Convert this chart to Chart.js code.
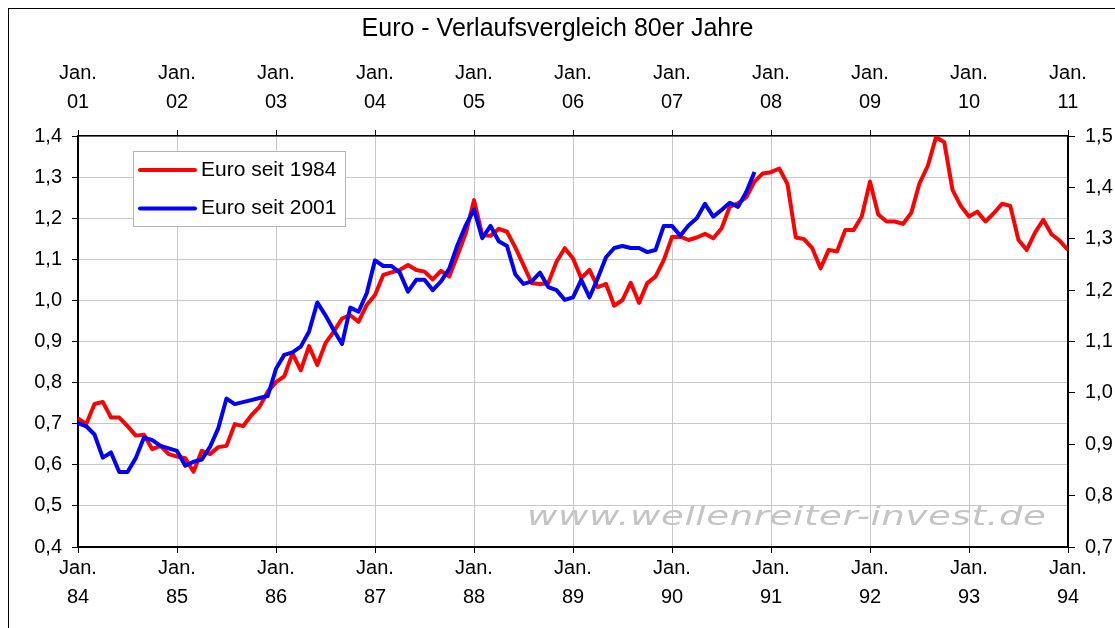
<!DOCTYPE html>
<html><head><meta charset="utf-8">
<script src="https://cdn.jsdelivr.net/npm/chart.js@4.4.1/dist/chart.umd.min.js"></script>
<style>
html,body{margin:0;padding:0;background:#fff;overflow:hidden;}
#wrap{position:relative;width:1115px;height:628px;overflow:hidden;}
#frame{position:absolute;left:8px;top:8px;width:1140px;height:680px;border:1px solid #000;box-sizing:border-box;pointer-events:none;}
canvas{position:absolute;left:0;top:0;}
</style></head><body>
<div id="wrap"><canvas id="c" width="1115" height="628"></canvas><div id="frame"></div></div>
<script>
// Tick labels
const bottomYears = ['84','85','86','87','88','89','90','91','92','93','94'];
const topYears = ['01','02','03','04','05','06','07','08','09','10','11'];
const monthLabel = 'Jan.';
const titleText = 'Euro - Verlaufsvergleich 80er Jahre';
const seriesNames = ['Euro seit 1984', 'Euro seit 2001'];
const watermarkText = 'www.wellenreiter-invest.de';

// Monthly values, Euro since Jan 1984 (left axis)
const red1984 = [
 0.713,0.699,0.748,0.753,0.715,0.715,0.694,0.671,0.673,0.638,0.646,0.626,
 0.620,0.616,0.583,0.634,0.626,0.643,0.646,0.699,0.694,0.720,0.741,0.778,
 0.801,0.815,0.871,0.830,0.889,0.843,0.896,0.924,0.956,0.964,0.948,0.989,
 1.013,1.062,1.068,1.074,1.086,1.074,1.070,1.051,1.072,1.058,1.110,1.163,
 1.244,1.159,1.157,1.174,1.167,1.129,1.086,1.042,1.040,1.042,1.094,1.127,
 1.102,1.054,1.074,1.032,1.040,0.987,1.001,1.043,0.994,1.042,1.058,1.098,
 1.154,1.155,1.147,1.153,1.162,1.151,1.175,1.228,1.236,1.251,1.289,1.309,
 1.312,1.321,1.283,1.153,1.149,1.127,1.078,1.123,1.119,1.171,1.171,1.204,
 1.289,1.209,1.192,1.192,1.186,1.213,1.285,1.327,1.397,1.385,1.269,1.230,
 1.204,1.216,1.192,1.212,1.235,1.230,1.147,1.123,1.165,1.196,1.161,1.145,
 1.123];

// Monthly values, Euro since Jan 2001 (right axis)
const blue2001 = [
 0.941,0.935,0.919,0.874,0.884,0.846,0.846,0.873,0.913,0.908,0.897,0.892,
 0.887,0.858,0.866,0.870,0.895,0.931,0.989,0.978,0.982,0.986,0.990,0.994,
 1.047,1.074,1.079,1.090,1.119,1.176,1.151,1.122,1.095,1.166,1.158,1.194,
 1.258,1.247,1.247,1.234,1.197,1.220,1.220,1.200,1.217,1.242,1.288,1.326,
 1.357,1.301,1.325,1.295,1.286,1.231,1.212,1.217,1.234,1.206,1.200,1.181,
 1.186,1.220,1.186,1.223,1.264,1.282,1.286,1.282,1.282,1.274,1.278,1.325,
 1.325,1.306,1.326,1.340,1.368,1.343,1.356,1.370,1.362,1.391,1.430];

const FONT = '"Liberation Sans", Arial, sans-serif';
const GRID = '#c8c8c8';
const fmt = v => v.toFixed(1).replace('.', ',');

const watermark = {
  id: 'watermark',
  beforeDatasetsDraw(chart) {
    const c = chart.ctx;
    c.save();
    c.translate(527, 525);
    c.scale(1.43, 1);
    c.font = 'italic 26px "DejaVu Sans", sans-serif';
    c.letterSpacing = '0.4px';
    c.filter = 'blur(0.7px)';
    c.fillStyle = '#c4c4c4';
    c.textBaseline = 'alphabetic'; c.textAlign = 'left';
    c.fillText(watermarkText, 0, 0);
    c.restore();
  }
};

const boxLegend = {
  id: 'boxLegend',
  afterDraw(chart) {
    const c = chart.ctx;
    c.save();
    c.fillStyle = '#fff';
    c.fillRect(133, 151, 212, 75);
    c.strokeStyle = '#b4b4b4'; c.lineWidth = 1;
    c.strokeRect(133.5, 151.5, 212, 75);
    c.font = '21px ' + FONT;
    c.textBaseline = 'middle'; c.textAlign = 'left';
    chart.data.datasets.forEach((ds, i) => {
      const y = 170 + i * 38.5;
      c.strokeStyle = ds.borderColor; c.lineWidth = 4; c.lineCap = 'round';
      c.beginPath(); c.moveTo(140, y); c.lineTo(195, y); c.stroke();
      c.fillStyle = '#000';
      c.fillText(ds.label, 201, y);
    });
    c.restore();
  }
};

new Chart(document.getElementById('c'), {
  type: 'line',
  data: {
    datasets: [
      { label: seriesNames[0], data: red1984.map((v, i) => ({ x: i, y: v })),
        borderColor: '#ff0000', backgroundColor: '#ff0000', borderWidth: 4, pointRadius: 0,
        tension: 0, borderJoinStyle: 'round', xAxisID: 'x', yAxisID: 'y', order: 1 },
      { label: seriesNames[1], data: blue2001.map((v, i) => ({ x: i, y: v })),
        borderColor: '#0000ff', backgroundColor: '#0000ff', borderWidth: 4, pointRadius: 0,
        tension: 0, borderJoinStyle: 'round', xAxisID: 'x', yAxisID: 'y2', order: 0 }
    ]
  },
  options: {
    responsive: false, animation: false, devicePixelRatio: 1,
    layout: { padding: 0 },
    plugins: {
      legend: { display: false },
      tooltip: { enabled: false },
      title: { display: true, text: titleText, color: '#000',
        font: { family: FONT, size: 25, weight: 'normal', lineHeight: 1.2 },
        padding: { top: 14, bottom: 0 } }
    },
    scales: {
      x: { type: 'linear', position: 'bottom', min: 0, max: 120,
        ticks: { stepSize: 12, autoSkip: false, maxRotation: 0, padding: 1, color: '#000',
          font: { family: FONT, size: 20, lineHeight: 1.45 },
          callback: (v) => [monthLabel, bottomYears[Math.round(v / 12)]] },
        grid: { color: GRID, lineWidth: 1, tickColor: '#000', tickLength: 6 },
        border: { color: '#000', width: 2 },
        afterFit: s => { s.height = 81; } },
      x2: { type: 'linear', position: 'top', min: 0, max: 120,
        ticks: { stepSize: 12, autoSkip: false, maxRotation: 0, padding: 12.7, color: '#000',
          font: { family: FONT, size: 20, lineHeight: 1.45 },
          callback: (v) => [monthLabel, topYears[Math.round(v / 12)]] },
        grid: { drawOnChartArea: false, tickColor: '#000', tickLength: 6 },
        border: { color: '#000', width: 1.5 },
        afterFit: s => { s.height = 136 - 44; } },
      y: { type: 'linear', position: 'left', min: 0.4, max: 1.4,
        ticks: { stepSize: 0.1, padding: 10, color: '#000', font: { family: FONT, size: 20 }, callback: v => fmt(v) },
        grid: { color: GRID, lineWidth: 1, tickColor: '#000', tickLength: 6 },
        border: { color: '#000', width: 2 },
        afterFit: s => { s.width = 78; } },
      y2: { type: 'linear', position: 'right', min: 0.7, max: 1.5,
        ticks: { stepSize: 0.1, padding: 10, color: '#000', font: { family: FONT, size: 20 }, callback: v => fmt(v) },
        grid: { drawOnChartArea: false, tickColor: '#000', tickLength: 7 },
        border: { color: '#000', width: 2 },
        afterFit: s => { s.width = 47; } }
    }
  },
  plugins: [watermark, boxLegend]
});
</script>
</body></html>
